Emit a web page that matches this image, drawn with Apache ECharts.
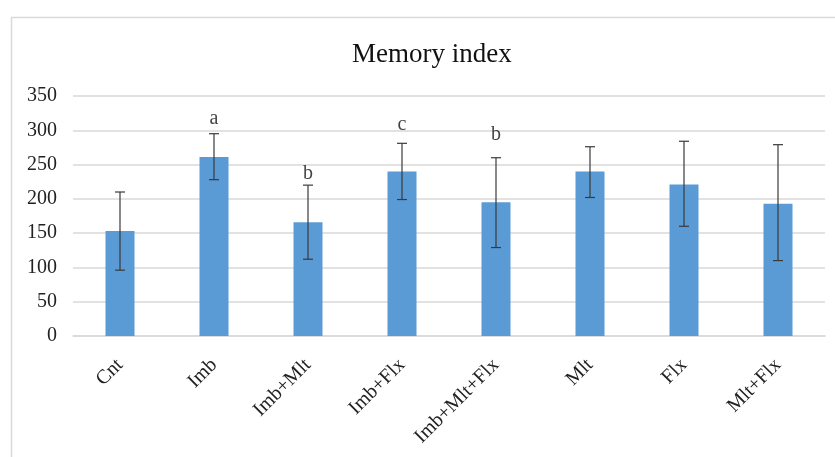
<!DOCTYPE html>
<html>
<head>
<meta charset="utf-8">
<script src="https://cdn.jsdelivr.net/npm/echarts@6/dist/echarts.min.js"></script>
<style>
  html, body { margin: 0; padding: 0; background: #fff; }
  #chart { width: 835px; height: 457px; }
</style>
</head>
<body>
<div id="chart"></div>
<script>
// Données
const categories = ['Cnt', 'Imb', 'Imb+Mlt', 'Imb+Flx', 'Imb+Mlt+Flx', 'Mlt', 'Flx', 'Mlt+Flx'];
const means = [153, 261, 166, 240, 195, 240, 221, 193];
const errLow = [96, 228, 112, 199, 129, 202, 160, 110];
const errHigh = [210, 295, 220, 281, 260, 276, 284, 279];
const letters = ['', 'a', 'b', 'c', 'b', '', '', ''];
const letterPos = [null, 317, 236, 308, 294, null, null, null];
const yTicks = [0, 50, 100, 150, 200, 250, 300, 350];

const font = '"Liberation Serif", "Times New Roman", serif';

const dom = document.getElementById('chart');
const myChart = echarts.init(dom);

// Barres d'erreur dessinées avec une série custom
function renderError(params, api) {
    const x = api.value(0);
    const lo = api.coord([x, api.value(1)]);
    const hi = api.coord([x, api.value(2)]);
    const half = 5;
    const style = { stroke: '#3a3a3a', lineWidth: 1.2 };
    return {
        type: 'group',
        children: [
            { type: 'line', shape: { x1: hi[0], y1: hi[1], x2: lo[0], y2: lo[1] }, style: style },
            { type: 'line', shape: { x1: hi[0] - half, y1: hi[1], x2: hi[0] + half, y2: hi[1] }, style: style },
            { type: 'line', shape: { x1: lo[0] - half, y1: lo[1], x2: lo[0] + half, y2: lo[1] }, style: style }
        ]
    };
}

myChart.setOption({
    backgroundColor: '#fff',
    animation: false,
    graphic: [{
        type: 'rect',
        left: 9, top: 15,
        shape: { width: 840, height: 460 },
        style: { fill: 'none', stroke: '#d9d9d9', lineWidth: 1.5 },
        silent: true
    }],
    title: {
        text: 'Memory index',
        left: 347,
        top: 36,
        textStyle: { fontFamily: font, fontSize: 27, fontWeight: 'normal', color: '#111' }
    },
    grid: { left: 73, right: 10, top: 96, bottom: 121 },
    xAxis: {
        type: 'category',
        data: categories,
        axisLine: { show: true, lineStyle: { color: '#d9d9d9', width: 1.5 } },
        axisTick: { show: false },
        axisLabel: {
            rotate: 45,
            interval: 0,
            margin: 26,
            fontFamily: font,
            fontSize: 20,
            color: '#222'
        }
    },
    yAxis: {
        type: 'value',
        min: 0,
        max: yTicks[yTicks.length - 1],
        interval: 50,
        axisLine: { show: false },
        axisTick: { show: false },
        splitLine: { lineStyle: { color: '#d9d9d9', width: 1.5 } },
        axisLabel: { fontFamily: font, fontSize: 20, color: '#222', margin: 16 }
    },
    series: [
        {
            type: 'bar',
            data: means,
            barWidth: 29,
            itemStyle: { color: '#5b9bd5' }
        },
        {
            type: 'custom',
            renderItem: renderError,
            data: categories.map((c, i) => [i, errLow[i], errHigh[i]]),
            encode: { x: 0, y: [1, 2] },
            z: 10
        },
        {
            type: 'scatter',
            symbolSize: 0,
            data: letterPos.map((v, i) => (v === null ? [i, null] : [i, v])),
            label: {
                show: true,
                position: 'inside',
                formatter: p => letters[p.dataIndex],
                fontFamily: font,
                fontSize: 20,
                color: '#111'
            },
            z: 11
        }
    ]
});
</script>
</body>
</html>
